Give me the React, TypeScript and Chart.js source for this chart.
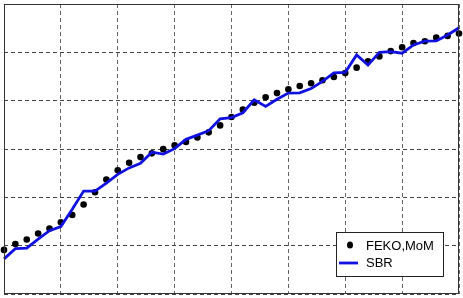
import React, { useEffect, useRef } from "react";
import { Chart, registerables } from "chart.js";

Chart.register(...registerables);

// Sample index (x axis, 0..40, grid every 5)
const sampleIndex = [
  0, 1, 2, 3, 4, 5, 6, 7, 8, 9, 10, 11, 12, 13, 14, 15, 16, 17, 18, 19, 20,
  21, 22, 23, 24, 25, 26, 27, 28, 29, 30, 31, 32, 33, 34, 35, 36, 37, 38, 39, 40,
];

// FEKO,MoM reference values (dots)
const fekoMoM = [
  9.12, 10.36, 11.29, 12.53, 13.56, 14.86, 16.35, 18.51, 21.05, 23.67, 25.59,
  27.14, 28.32, 29.1, 29.97, 30.79, 31.46, 32.38, 33.44, 34.88, 36.61, 38.16,
  39.57, 40.7, 41.57, 42.35, 43.03, 43.59, 44.21, 44.89, 45.7, 46.83, 48.13,
  49.16, 50.26, 51.06, 51.91, 52.3, 53.08, 53.4, 53.91,
];

// SBR values (line)
const sbr = [
  7.27, 9.39, 9.49, 11.35, 13.09, 13.97, 17.54, 21.3, 21.3, 22.95, 24.75,
  26.09, 27.04, 29.35, 28.94, 30.07, 32.0, 32.86, 33.79, 36.26, 36.51, 37.5,
  40.19, 38.8, 40.29, 41.57, 41.63, 42.5, 44.0, 45.76, 45.86, 49.47, 47.35,
  49.99, 50.15, 49.82, 51.54, 52.3, 52.36, 53.6, 55.09,
];

const xMin = 0;
const xMax = 40;
const xStep = 5;
const yMin = 0;
const yMax = 60;
const yStep = 10;

const legendLabels = ["FEKO,MoM", "SBR"];
const FONT = '13px "Liberation Sans", Arial, Helvetica, sans-serif';
const BLUE = "#1010e0";

const framePlugin = {
  id: "frameAndLegend",
  afterDraw(chart: any) {
    const { ctx, chartArea } = chart;
    ctx.save();
    // solid frame
    ctx.strokeStyle = "#333";
    ctx.lineWidth = 1;
    ctx.setLineDash([]);
    ctx.strokeRect(
      Math.round(chartArea.left) + 0.5,
      Math.round(chartArea.top) + 0.5,
      Math.round(chartArea.right - chartArea.left) - 1,
      Math.round(chartArea.bottom - chartArea.top) - 1
    );
    // legend box
    const bx = Math.round(chartArea.right) - 123;
    const by = Math.round(chartArea.bottom) - 62;
    const bw = 107;
    const bh = 44;
    ctx.fillStyle = "#fff";
    ctx.fillRect(bx, by, bw, bh);
    ctx.strokeStyle = "#222";
    ctx.strokeRect(bx + 0.5, by + 0.5, bw, bh);
    // dot marker
    ctx.fillStyle = "#000";
    ctx.beginPath();
    ctx.ellipse(bx + 14, by + 13, 3, 3.5, 0, 0, Math.PI * 2);
    ctx.fill();
    // line marker
    ctx.strokeStyle = BLUE;
    ctx.lineWidth = 2.8;
    ctx.beginPath();
    ctx.moveTo(bx + 3, by + 31);
    ctx.lineTo(bx + 22, by + 31);
    ctx.stroke();
    // texts
    ctx.fillStyle = "#000";
    ctx.font = FONT;
    ctx.textBaseline = "middle";
    ctx.textAlign = "left";
    ctx.fillText(legendLabels[0], bx + 30, by + 14.5);
    ctx.fillText(legendLabels[1], bx + 30, by + 31);
    ctx.restore();
  },
};

export default function App() {
  const canvasRef = useRef<HTMLCanvasElement | null>(null);

  useEffect(() => {
    document.body.style.margin = "0";
    const canvas = canvasRef.current;
    if (!canvas) return;

    const fekoPoints = sampleIndex.map((x, i) => ({ x, y: fekoMoM[i] }));
    const sbrPoints = sampleIndex.map((x, i) => ({ x, y: sbr[i] }));

    const chart = new Chart(canvas, {
      type: "scatter",
      data: {
        datasets: [
          {
            label: legendLabels[0],
            data: fekoPoints,
            showLine: false,
            pointStyle: "circle",
            pointRadius: 3.3,
            pointBackgroundColor: "#000",
            pointBorderColor: "#000",
            pointBorderWidth: 0,
            order: 2,
            clip: false as any,
          },
          {
            label: legendLabels[1],
            data: sbrPoints,
            showLine: true,
            borderColor: BLUE,
            borderWidth: 2.8,
            pointRadius: 0,
            tension: 0,
            order: 1,
            clip: false as any,
          },
        ],
      },
      options: {
        responsive: false,
        animation: false,
        devicePixelRatio: 1,
        layout: { padding: { left: 2, top: 4, right: 4, bottom: 3 } },
        plugins: {
          legend: { display: false },
          tooltip: { enabled: false },
        },
        scales: {
          x: {
            type: "linear",
            min: xMin,
            max: xMax,
            ticks: { display: false, stepSize: xStep },
            grid: { color: "#666", lineWidth: 1, drawTicks: false },
            border: { display: false, dash: [4, 3] },
          },
          y: {
            type: "linear",
            min: yMin,
            max: yMax,
            ticks: { display: false, stepSize: yStep },
            grid: { color: "#444", lineWidth: 1, drawTicks: false },
            border: { display: false, dash: [4, 3] },
          },
        },
      },
      plugins: [framePlugin],
    });

    return () => chart.destroy();
  }, []);

  return <canvas ref={canvasRef} width={463} height={298} />;
}
